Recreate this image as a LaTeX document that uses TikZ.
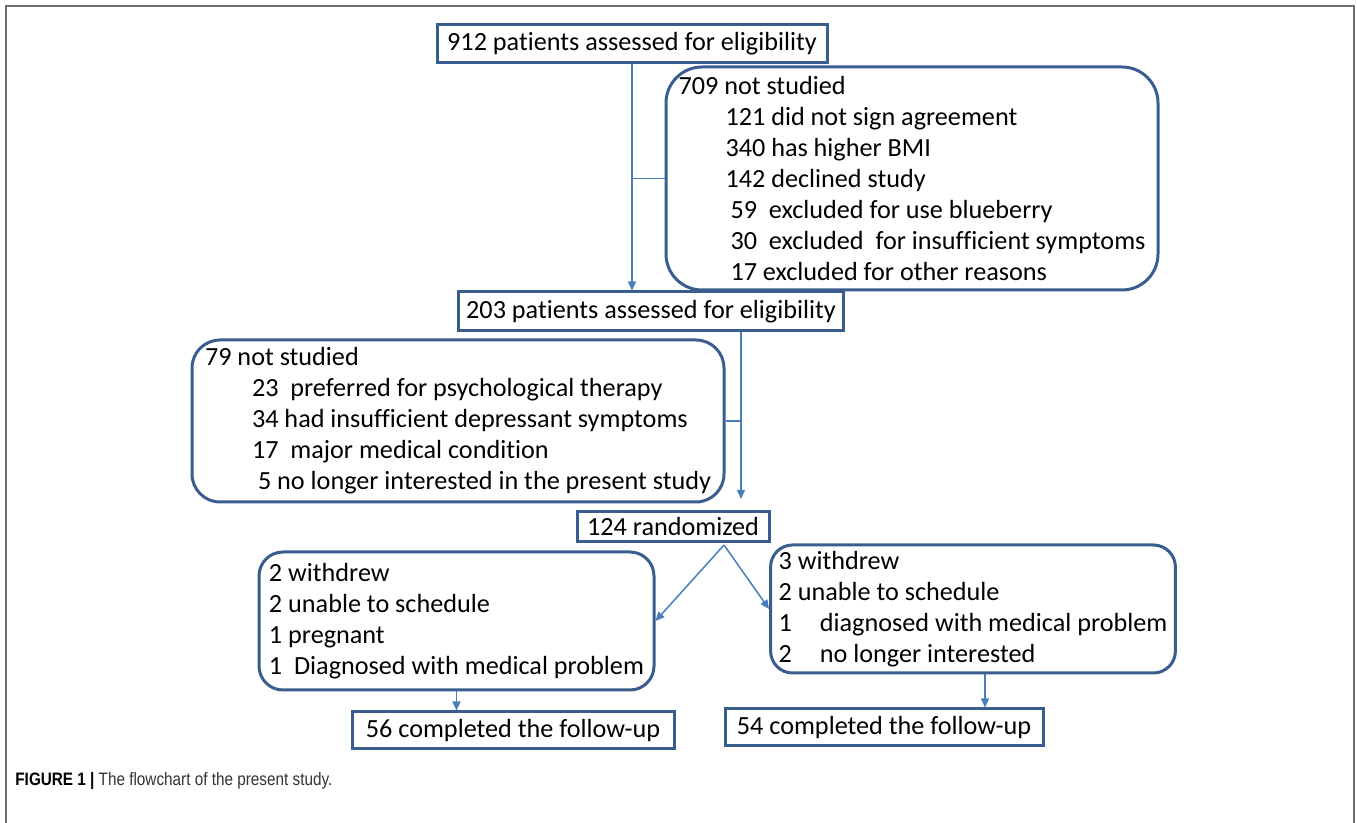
\documentclass[tikz,border=0pt]{standalone}
\usepackage{fontspec}
\setmainfont{Carlito}[Ligatures=NoCommon]
\newfontfamily\capfont{Liberation Sans}[FakeStretch=0.85]
\usetikzlibrary{arrows.meta,positioning,calc}
\definecolor{boxblue}{HTML}{3A5D8F}
\definecolor{lineblue}{HTML}{4A7EBB}
\definecolor{framegray}{HTML}{6E6E6E}
\definecolor{capgray}{HTML}{333333}
\tikzset{
  box/.style={draw=boxblue,line width=1.5pt,inner xsep=4pt,inner ysep=1pt,align=left},
  rbox/.style={box,rounded corners=#1},
  rbox/.default=12pt,
}

\begin{document}
\begin{tikzpicture}[
    x=0.5pt,y=-0.5pt,
    font=\fontsize{13.1pt}{15.5pt}\selectfont,
    arr/.style={-{Triangle[length=4.5pt,width=4pt]},draw=lineblue,line width=0.75pt},
    lnk/.style={draw=lineblue,line width=0.75pt},
    capt/.style={font=\capfont\fontsize{9pt}{10pt}\selectfont,inner sep=0pt,anchor=base west},
  ]
    \useasboundingbox (0,0) rectangle (1357,823);
    \draw[framegray,line width=1pt] (5.5,823) -- (5.5,6) -- (1354,6) -- (1354,823);

    \node[box,minimum width=195pt,minimum height=19pt] (screen) at (632,44) {912 patients assessed for eligibility};
    \node[rbox=18pt,minimum width=246pt,minimum height=111.5pt] (excl1) at (912,178.5)
      {709 not studied\\
       \hspace*{23.5pt}121 did not sign agreement\\
       \hspace*{23.5pt}340 has higher BMI\\
       \hspace*{23.5pt}142 declined study\\
       \hspace*{26pt}59\ \ excluded for use blueberry\\
       \hspace*{26pt}30\ \ excluded\ \ for insufficient symptoms\\
       \hspace*{26pt}17 excluded for other reasons};
    \node[box,minimum width=187pt,minimum height=19.5pt] (stage2) at (651,311.5) {203 patients assessed for eligibility};
    \node[rbox=14pt,minimum width=266pt,minimum height=81pt] (excl2) at (458,421)
      {79 not studied\\
       \hspace*{23.5pt}23\ \ preferred for psychological therapy\\
       \hspace*{23.5pt}34 had insufficient depressant symptoms\\
       \hspace*{23.5pt}17\ \ major medical condition\\
       \hspace*{26.5pt}5 no longer interested in the present study};
    \node[box,minimum width=96pt,minimum height=15pt,inner ysep=0pt] (rand) at (673,526.5) {124 randomized};
    \node[rbox=12pt,minimum width=197.5pt,minimum height=69pt] (arm1) at (456.5,621)
      {2 withdrew\\
       2 unable to schedule\\
       1 pregnant\\
       1\ \ Diagnosed with medical problem};
    \node[rbox=11pt,minimum width=199pt,minimum height=64pt] (arm2) at (973,609)
      {3 withdrew\\
       2 unable to schedule\\
       1\hspace{14pt}diagnosed with medical problem\\
       2\hspace{14pt}no longer interested};
    \node[box,minimum width=161pt,minimum height=18.5pt] (done1) at (513,730.5) {56 completed the follow-up};
    \node[box,minimum width=159pt,minimum height=18.5pt] (done2) at (884,727.5) {54 completed the follow-up};
    \node[capt] (cap) at (15,786) {\textbf{FIGURE 1 |} \textcolor{capgray}{The flowchart of the present study.}};

    \coordinate (fork) at (724,545);
    \coordinate (drop) at ([xshift=45pt]stage2.south);
    \draw[arr] (screen.south) -- (screen.south |- stage2.north);
    \draw[lnk] (excl1.west) -- (excl1.west -| screen.south);
    \draw[arr,shorten >=5.5pt] (drop) -- (drop |- rand.north);
    \draw[lnk] (excl2.east) -- (excl2.east -| drop);
    \draw[arr] (fork) -- (arm1.east);
    \draw[arr] (fork) -- (arm2.west);
    \draw[arr] (arm1.south) -- (arm1.south |- done1.north);
    \draw[arr] ([xshift=6pt]arm2.south) -- ([xshift=6pt]arm2.south |- done2.north);
  \end{tikzpicture}
\end{document}
